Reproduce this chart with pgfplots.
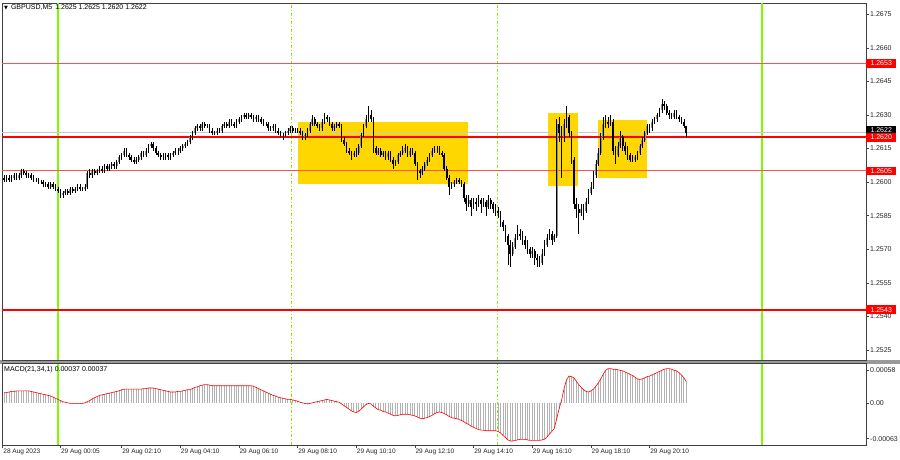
\documentclass[border=0pt]{standalone}
\usepackage{pgfplots}
\pgfplotsset{compat=1.18}
\usepackage{pgfplotstable}
\usepackage{fontspec}
\setmainfont{Liberation Sans}
\newfontfamily\symfont{DejaVu Sans}
\definecolor{gold}{RGB}{255,215,0}
\definecolor{lgreen}{RGB}{124,252,0}
\definecolor{dgreen}{RGB}{124,240,0}
\definecolor{lvred}{RGB}{255,0,0}
\definecolor{lvpink}{RGB}{255,80,80}
\definecolor{bidgray}{RGB}{200,200,200}

\pgfplotstableread{
t o h l c m
-22 12602 12603 12600 12601 18
-21 12601 12603 12600 12602 18
-20 12602 12603 12600 12601 19
-19 12601 12603 12600 12602 20
-18 12602 12604 12601 12603 20
-17 12603 12604 12601 12602 21
-16 12602 12604 12601 12603 21
-15 12603 12606 12602 12605 21
-14 12605 12606 12603 12604 21
-13 12604 12605 12602 12603 21
-12 12603 12604 12602 12603 21
-11 12603 12604 12601 12602 20
-10 12602 12603 12600 12601 19
-9 12601 12602 12600 12601 18
-8 12601 12602 12599 12600 17
-7 12600 12601 12599 12600 16
-6 12600 12601 12598 12599 15
-5 12599 12600 12598 12599 14
-4 12599 12600 12597 12598 13
-3 12598 12600 12597 12599 12
-2 12599 12600 12597 12598 10
-1 12598 12599 12596 12597 8
0 12597 12598 12595 12596 6
1 12596 12597 12593 12594 4
2 12594 12596 12593 12595 2
3 12595 12597 12594 12596 1
4 12596 12597 12594 12595 0
5 12595 12598 12594 12597 -1
6 12597 12598 12595 12596 -1
7 12596 12598 12595 12597 -1
8 12597 12599 12596 12598 -1
9 12598 12599 12596 12597 -1
10 12597 12598 12596 12597 -1
11 12597 12599 12596 12598 0
12 12598 12605 12597 12604 2
13 12604 12606 12602 12603 4
14 12603 12606 12602 12605 7
15 12605 12606 12603 12604 9
16 12604 12606 12603 12605 11
17 12605 12607 12604 12606 13
18 12606 12607 12604 12605 14
19 12605 12608 12604 12607 15
20 12607 12608 12605 12606 16
21 12606 12608 12605 12607 17
22 12607 12609 12606 12608 18
23 12608 12609 12606 12607 19
24 12607 12610 12606 12609 20
25 12609 12612 12608 12611 21
26 12611 12613 12610 12612 23
27 12612 12615 12611 12614 24
28 12614 12615 12611 12612 24
29 12612 12613 12610 12611 24
30 12611 12612 12609 12610 24
31 12610 12611 12608 12609 24
32 12609 12611 12608 12610 24
33 12610 12612 12609 12611 24
34 12611 12614 12610 12613 24
35 12613 12614 12611 12612 25
36 12612 12615 12611 12614 25
37 12614 12617 12613 12616 26
38 12616 12618 12615 12617 26
39 12617 12618 12614 12615 26
40 12615 12616 12612 12613 25
41 12613 12614 12611 12612 24
42 12612 12613 12610 12611 23
43 12611 12613 12610 12611 22
44 12611 12613 12610 12612 21
45 12612 12613 12610 12611 20
46 12611 12613 12610 12612 19
47 12612 12614 12611 12613 19
48 12613 12615 12612 12614 19
49 12614 12615 12612 12614 20
50 12614 12616 12613 12615 20
51 12615 12617 12614 12616 21
52 12616 12618 12615 12617 22
53 12617 12619 12616 12618 23
54 12618 12621 12617 12620 23
55 12620 12623 12619 12622 25
56 12622 12625 12621 12624 27
57 12624 12626 12623 12625 28
58 12625 12626 12623 12624 30
59 12624 12627 12623 12626 31
60 12626 12627 12624 12625 32
61 12625 12626 12624 12625 32
62 12625 12626 12622 12623 31
63 12623 12624 12621 12622 30
64 12622 12623 12621 12622 30
65 12622 12624 12621 12623 30
66 12623 12624 12622 12623 30
67 12623 12626 12622 12625 30
68 12625 12627 12624 12626 30
69 12626 12627 12624 12625 30
70 12625 12628 12624 12627 30
71 12627 12628 12625 12626 30
72 12626 12627 12624 12625 30
73 12625 12628 12624 12627 30
74 12627 12629 12626 12628 30
75 12628 12630 12627 12629 30
76 12629 12631 12628 12630 30
77 12630 12631 12628 12629 30
78 12629 12631 12628 12630 30
79 12630 12631 12628 12629 30
80 12629 12630 12627 12628 29
81 12628 12630 12627 12629 27
82 12629 12630 12627 12628 25
83 12628 12629 12626 12627 23
84 12627 12628 12625 12626 21
85 12626 12627 12625 12626 19
86 12626 12627 12623 12624 17
87 12624 12625 12623 12624 15
88 12624 12626 12623 12625 13
89 12625 12626 12622 12623 12
90 12623 12624 12621 12622 10
91 12622 12623 12620 12621 9
92 12621 12622 12619 12621 8
93 12621 12623 12620 12622 7
94 12622 12624 12621 12623 6
95 12623 12625 12622 12624 6
96 12624 12625 12622 12623 5
97 12623 12624 12622 12623 4
98 12623 12624 12622 12623 3
99 12623 12624 12621 12622 1
100 12622 12623 12619 12620 0
101 12620 12622 12619 12621 -1
102 12621 12624 12620 12623 -2
103 12623 12627 12622 12626 -1
104 12626 12630 12625 12628 0
105 12628 12629 12625 12626 1
106 12626 12627 12624 12625 2
107 12625 12626 12623 12624 3
108 12624 12628 12623 12627 4
109 12627 12631 12626 12629 5
110 12629 12630 12627 12628 6
111 12628 12629 12625 12626 5
112 12626 12627 12623 12624 4
113 12624 12626 12623 12625 3
114 12625 12627 12624 12626 2
115 12626 12627 12624 12625 1
116 12625 12626 12618 12619 -2
117 12619 12620 12616 12617 -5
118 12617 12618 12613 12614 -8
119 12614 12615 12612 12613 -11
120 12613 12614 12610 12612 -14
121 12612 12614 12611 12613 -16
122 12613 12615 12611 12613 -17
123 12613 12617 12612 12616 -15
124 12616 12622 12615 12621 -11
125 12621 12626 12620 12625 -7
126 12625 12630 12624 12628 -3
127 12628 12634 12627 12630 -1
128 12630 12632 12627 12628 -2
129 12628 12629 12613 12615 -6
130 12615 12616 12612 12613 -9
131 12613 12615 12612 12614 -12
132 12614 12615 12611 12612 -13
133 12612 12614 12611 12613 -15
134 12613 12614 12610 12611 -16
135 12611 12614 12610 12613 -18
136 12613 12614 12609 12610 -20
137 12610 12611 12606 12608 -22
138 12608 12610 12607 12609 -23
139 12609 12613 12608 12612 -22
140 12612 12614 12611 12613 -21
141 12613 12616 12612 12614 -20
142 12614 12617 12613 12615 -20
143 12615 12616 12611 12612 -20
144 12612 12615 12611 12614 -21
145 12614 12615 12612 12613 -22
146 12613 12614 12607 12608 -23
147 12608 12609 12601 12605 -25
148 12605 12606 12602 12604 -27
149 12604 12607 12603 12606 -28
150 12606 12609 12605 12608 -27
151 12608 12611 12607 12610 -26
152 12610 12613 12609 12612 -24
153 12612 12615 12611 12614 -22
154 12614 12616 12613 12615 -19
155 12615 12616 12613 12615 -17
156 12615 12616 12612 12613 -16
157 12613 12614 12611 12612 -17
158 12612 12613 12605 12606 -19
159 12606 12607 12601 12602 -21
160 12602 12603 12594 12598 -24
161 12598 12600 12597 12599 -26
162 12599 12601 12598 12600 -27
163 12600 12602 12599 12601 -28
164 12601 12602 12599 12600 -29
165 12600 12601 12598 12599 -31
166 12599 12600 12591 12593 -33
167 12593 12594 12587 12590 -36
168 12590 12594 12589 12592 -38
169 12592 12593 12585 12589 -41
170 12589 12593 12588 12591 -43
171 12591 12593 12587 12590 -45
172 12590 12594 12589 12592 -47
173 12592 12593 12586 12590 -48
174 12590 12593 12589 12591 -48
175 12591 12592 12585 12589 -49
176 12589 12594 12588 12592 -49
177 12592 12593 12588 12590 -49
178 12590 12591 12586 12588 -49
179 12588 12590 12585 12587 -49
180 12587 12589 12584 12586 -50
181 12586 12587 12580 12582 -53
182 12582 12583 12578 12580 -57
183 12580 12581 12573 12576 -61
184 12576 12577 12563 12572 -65
185 12572 12574 12562 12568 -67
186 12568 12573 12567 12571 -67
187 12571 12577 12570 12575 -66
188 12575 12581 12574 12577 -65
189 12577 12579 12574 12576 -64
190 12576 12578 12572 12574 -64
191 12574 12576 12570 12572 -64
192 12572 12574 12568 12570 -65
193 12570 12571 12566 12568 -66
194 12568 12571 12566 12569 -66
195 12569 12570 12563 12566 -66
196 12566 12568 12562 12565 -66
197 12565 12567 12562 12564 -66
198 12564 12570 12563 12568 -65
199 12568 12574 12567 12572 -64
200 12572 12577 12571 12575 -60
201 12575 12579 12574 12577 -55
202 12577 12578 12572 12574 -50
203 12574 12577 12573 12576 -45
204 12576 12628 12575 12626 -28
205 12626 12629 12618 12622 -10
206 12622 12625 12602 12620 5
207 12620 12628 12618 12626 25
208 12626 12634 12624 12629 40
209 12629 12630 12620 12622 47
210 12622 12623 12608 12610 46
211 12610 12611 12588 12590 44
212 12590 12593 12584 12588 38
213 12588 12590 12577 12586 32
214 12586 12590 12585 12588 27
215 12588 12590 12583 12587 23
216 12587 12593 12586 12591 20
217 12591 12597 12590 12595 19
218 12595 12600 12594 12598 21
219 12598 12605 12597 12603 24
220 12603 12610 12602 12608 29
221 12608 12615 12607 12613 35
222 12613 12622 12612 12620 42
223 12620 12629 12619 12626 50
224 12626 12630 12624 12627 57
225 12627 12629 12624 12626 60
226 12626 12630 12625 12627 60
227 12627 12628 12612 12614 59
228 12614 12616 12608 12612 59
229 12612 12618 12611 12616 58
230 12616 12623 12615 12620 57
231 12620 12621 12614 12616 56
232 12616 12618 12612 12614 54
233 12614 12616 12610 12612 52
234 12612 12613 12609 12610 50
235 12610 12612 12609 12610 48
236 12610 12612 12609 12611 45
237 12611 12614 12610 12613 42
238 12613 12617 12612 12616 41
239 12616 12620 12615 12619 42
240 12619 12623 12618 12622 44
241 12622 12626 12621 12625 46
242 12625 12626 12622 12624 47
243 12624 12628 12623 12627 49
244 12627 12629 12626 12628 51
245 12628 12631 12627 12630 53
246 12630 12633 12629 12632 55
247 12632 12637 12631 12635 57
248 12635 12636 12632 12634 59
249 12634 12635 12630 12631 60
250 12631 12632 12628 12630 60
251 12630 12631 12628 12629 59
252 12629 12632 12628 12631 57
253 12631 12632 12628 12629 56
254 12629 12630 12627 12628 53
255 12628 12629 12626 12627 49
256 12627 12628 12624 12625 44
257 12625 12625 12620 12622 37
}\candles

\begin{document}
\begin{tikzpicture}
\path[use as bounding box] (0pt,0pt) rectangle (900pt,-460pt);
\fill[white] (0pt,0pt) rectangle (900pt,-460pt);
\fill[black!40] (0pt,-360pt) rectangle (900pt,-363.5pt);

% ---------------- main price panel ----------------
\begin{axis}[
  at={(2pt,-3pt)}, anchor=north west,
  width=864pt, height=357pt, scale only axis,
  xmin=-22.9, xmax=330.5, ymin=12520.5, ymax=12680,
  xtick=\empty,
  ytick={12525,12540,12555,12570,12585,12600,12615,12630,12645,12660,12675},
  yticklabels={1.2525,1.2540,1.2555,1.2570,1.2585,1.2600,1.2615,1.2630,1.2645,1.2660,1.2675},
  ytick pos=right, yticklabel pos=right,
  tick align=outside, major tick length=3pt,
  tick style={black!75, line width=0.5pt},
  yticklabel style={font=\fontsize{7}{8}\selectfont, inner sep=1pt, text=black!85},
  axis line style={black!75, line width=0.7pt},
  clip mode=individual,
]
% yellow zones
\addplot[fill=gold, draw=none, forget plot] coordinates {(98.3,12599.2) (167.6,12599.2) (167.6,12626.9) (98.3,12626.9)} -- cycle;
\addplot[fill=gold, draw=none, forget plot] coordinates {(200.6,12598.3) (212.5,12598.3) (212.5,12630.7) (200.6,12630.7)} -- cycle;
\addplot[fill=gold, draw=none, forget plot] coordinates {(220.7,12601.7) (240.9,12601.7) (240.9,12627.7) (220.7,12627.7)} -- cycle;
% vertical separators
\addplot[draw=lgreen, line width=1.6pt, forget plot] coordinates {(0,12520.5) (0,12680)};
\addplot[draw=lgreen, line width=1.6pt, forget plot] coordinates {(287.9,12520.5) (287.9,12680)};
\addplot[draw=dgreen, line width=0.8pt, dash pattern=on 3pt off 2pt on 1pt off 2pt, forget plot] coordinates {(95.3,12520.5) (95.3,12680)};
\addplot[draw=dgreen, line width=0.8pt, dash pattern=on 3pt off 2pt on 1pt off 2pt, forget plot] coordinates {(179.6,12520.5) (179.6,12680)};
% horizontal levels
\addplot[draw=bidgray, line width=0.7pt, forget plot] coordinates {(-22.9,12622) (330.5,12622)};
\addplot[draw=lvpink, line width=1.1pt, forget plot] coordinates {(-22.9,12653) (330.5,12653)};
\addplot[draw=lvred, line width=1.9pt, forget plot] coordinates {(-22.9,12620) (330.5,12620)};
\addplot[draw=lvpink, line width=1.2pt, forget plot] coordinates {(-22.9,12605) (330.5,12605)};
\addplot[draw=lvred, line width=1.9pt, forget plot] coordinates {(-22.9,12543) (330.5,12543)};
% candles: bull bodies, wicks, bear bodies
\addplot[draw=none, mark=none, forget plot, error bars/.cd, y dir=minus, y explicit, error mark=none,
  error bar style={draw=black!45, line width=1.7pt}]
  table[x=t, y=c, y error minus expr={max(\thisrow{c}-\thisrow{o},0)}] {\candles};
\addplot[draw=none, mark=none, forget plot, error bars/.cd, y dir=minus, y explicit, error mark=none,
  error bar style={draw=black, line width=0.55pt}]
  table[x=t, y=h, y error minus expr={\thisrow{h}-\thisrow{l}}] {\candles};
\addplot[draw=none, mark=none, forget plot, error bars/.cd, y dir=minus, y explicit, error mark=none,
  error bar style={draw=black, line width=1.7pt}]
  table[x=t, y=o, y error minus expr={max(\thisrow{o}-\thisrow{c},0)}] {\candles};
% price tags
\node[fill=black, text=white, anchor=west, minimum width=30pt, minimum height=8.5pt, inner sep=0pt, font=\fontsize{7}{8}\selectfont] at (axis cs:330.5,12623) {1.2622};
\node[fill=lvred, text=white, anchor=west, minimum width=30pt, minimum height=8.5pt, inner sep=0pt, font=\fontsize{7}{8}\selectfont] at (axis cs:330.5,12653) {1.2653};
\node[fill=lvred, text=white, anchor=west, minimum width=30pt, minimum height=8.5pt, inner sep=0pt, font=\fontsize{7}{8}\selectfont] at (axis cs:330.5,12620) {1.2620};
\node[fill=lvred, text=white, anchor=west, minimum width=30pt, minimum height=8.5pt, inner sep=0pt, font=\fontsize{7}{8}\selectfont] at (axis cs:330.5,12605) {1.2605};
\node[fill=lvred, text=white, anchor=west, minimum width=30pt, minimum height=8.5pt, inner sep=0pt, font=\fontsize{7}{8}\selectfont] at (axis cs:330.5,12543) {1.2543};
\end{axis}

% ---------------- MACD panel ----------------
\begin{axis}[
  at={(2pt,-363.5pt)}, anchor=north west,
  width=864pt, height=81.5pt, scale only axis,
  xmin=-22.9, xmax=330.5, ymin=-74, ymax=69,
  ytick={-63,0,58},
  yticklabels={-0.00063,0.00,0.00058},
  ytick pos=right, yticklabel pos=right,
  xtick={-22.6,1,26,50,74,98,122,146,170,194,218,242},
  xticklabels={28 Aug 2023,29 Aug 00:05,29 Aug 02:10,29 Aug 04:10,29 Aug 06:10,29 Aug 08:10,29 Aug 10:10,29 Aug 12:10,29 Aug 14:10,29 Aug 16:10,29 Aug 18:10,29 Aug 20:10},
  xtick pos=bottom,
  xticklabel style={anchor=north west, font=\fontsize{6.5}{7}\selectfont, inner sep=1pt, xshift=-0.5pt, text=black!85},
  tick align=outside, major tick length=3pt,
  tick style={black!75, line width=0.5pt},
  yticklabel style={font=\fontsize{7}{8}\selectfont, inner sep=1pt, text=black!85},
  axis line style={black!75, line width=0.7pt},
  clip mode=individual,
]
\addplot[draw=lgreen, line width=1.6pt, forget plot] coordinates {(0,-74) (0,69)};
\addplot[draw=lgreen, line width=1.6pt, forget plot] coordinates {(287.9,-74) (287.9,69)};
\addplot[draw=dgreen, line width=0.8pt, dash pattern=on 3pt off 2pt on 1pt off 2pt, forget plot] coordinates {(95.3,-74) (95.3,69)};
\addplot[draw=dgreen, line width=0.8pt, dash pattern=on 3pt off 2pt on 1pt off 2pt, forget plot] coordinates {(179.6,-74) (179.6,69)};
\addplot[ycomb, draw=black!30, line width=0.9pt, mark=none] table[x=t, y=m] {\candles};
\addplot[draw=lvred, line width=0.6pt, mark=none] table[x=t, y=m] {\candles};
\end{axis}

% header texts
\node[anchor=west, font=\fontsize{7}{8}\selectfont, inner sep=0pt] at (4pt,-7.5pt)
  {{\symfont\fontsize{5}{6}\selectfont ▼}\hspace{3pt}GBPUSD,M5\hspace{3pt}1.2625 1.2625 1.2620 1.2622};
\node[anchor=west, font=\fontsize{7}{8}\selectfont, inner sep=0pt] at (4pt,-370pt)
  {MACD(21,34,1) 0.00037 0.00037};
\end{tikzpicture}
\end{document}
